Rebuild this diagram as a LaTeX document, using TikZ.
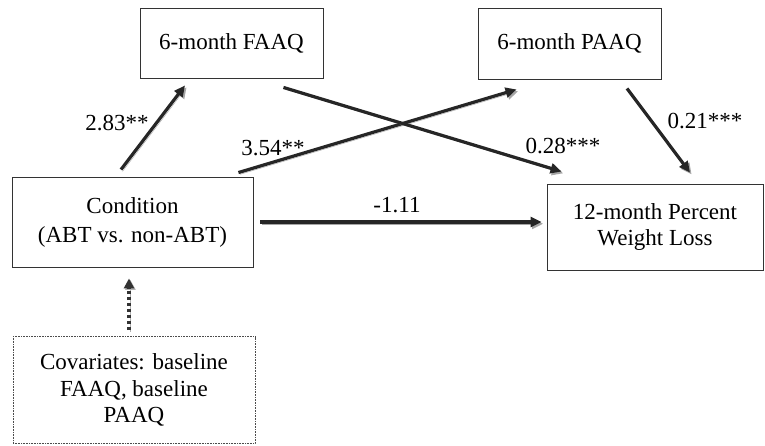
\documentclass[tikz,border=0pt]{standalone}
\usepackage{fontspec}
\setmainfont{Liberation Serif}
\usetikzlibrary{arrows.meta,calc}
\begin{document}
\begin{tikzpicture}[x=1pt,y=1pt,
  box/.style={draw=black!80,line width=0.9pt,rectangle,inner sep=2pt,align=center,font=\fontsize{23}{27}\selectfont},
  lab/.style={font=\fontsize{23}{27}\selectfont,inner sep=0pt},
  conn/.style={line width=3.2pt,draw=black!85,-{Triangle[length=11pt,width=10pt]},
    preaction={draw=black!35,transform canvas={shift={(1.6pt,-1.8pt)}}}},
  dconn/.style={line width=3.2pt,draw=black!80,dash pattern=on 3.5pt off 2.5pt,-{Triangle[length=10pt,width=10pt]},
    preaction={draw=black!30,transform canvas={shift={(1.4pt,-1.4pt)}}}}]
\useasboundingbox (0,0) rectangle (765,445);
\node[box,minimum width=183pt,minimum height=70pt] (faaq) at (231.5,402) {6-month FAAQ};
\node[box,minimum width=183pt,minimum height=71pt] (paaq) at (569.5,401.5) {6-month PAAQ};
\node[box,minimum width=241pt,minimum height=90pt,font=\fontsize{23}{29}\selectfont] (cond) at (132.5,223) {Condition\\(ABT vs. non-ABT)};
\node[box,minimum width=216pt,minimum height=86pt,font=\fontsize{23}{26}\selectfont] (wl) at (655,218) {12-month Percent\\Weight Loss};
\node[box,draw=black!70,line width=0.6pt,densely dotted,minimum width=242pt,minimum height=107pt,font=\fontsize{23}{26.5}\selectfont] (cov) at (134,55) {Covariates: baseline\\FAAQ, baseline\\PAAQ};

\draw[conn] ($(cond.north)+(-11.5,7)$) -- ($(faaq.south)+(-46.5,-7)$);
\draw[conn] ($(cond.north east)+(-15,4)$) -- ($(paaq.south west)+(39,-10)$);
\draw[conn] ($(faaq.south east)+(-40,-9)$) -- ($(wl.north west)+(15,12)$);
\draw[conn] ($(paaq.south)+(57.5,-9)$) -- ($(wl.north)+(35,11)$);
\draw[conn] ($(cond.east)+(7,0)$) -- ($(wl.west)+(-5,5)$);
\draw[dconn] ($(cov.north)+(-5,6)$) -- ($(cond.south)+(-3.5,-11)$);

\node[lab] (l1) at (117,322) {2.83**};
\node[lab] (l2) at (273,297) {3.54**};
\node[lab] (l3) at (563,299) {0.28***};
\node[lab] (l4) at (705,324) {0.21***};
\node[lab] (l5) at (397,240) {-1.11};
\end{tikzpicture}
\end{document}
